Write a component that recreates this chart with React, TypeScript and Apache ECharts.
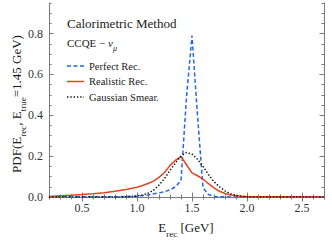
import React, { useEffect, useRef } from "react";
import * as echarts from "echarts";

const FONT = "Liberation Serif";

const seriesNames = ["Perfect Rec.", "Realistic Rec.", "Gaussian Smear."];
const seriesColors = ["#2266e0", "#e2441e", "#111111"];
const seriesDash: (number[] | null)[] = [[4, 2.5], null, [1.4, 1.9]];

const perfectX = [0.2, 0.6, 0.9, 1.0, 1.1, 1.2, 1.25, 1.3, 1.35, 1.4, 1.45, 1.5, 1.55, 1.6, 1.65, 1.7, 1.75, 2.0, 2.7];
const perfectY = [0.001, 0.001, 0.002, 0.004, 0.01, 0.02, 0.026, 0.035, 0.05, 0.08, 0.49, 0.79, 0.4, 0.045, 0.012, 0.003, 0.001, 0, 0];

const realisticX = [0.2, 0.3, 0.4, 0.5, 0.6, 0.7, 0.8, 0.9, 1.0, 1.05, 1.1, 1.15, 1.2, 1.25, 1.3, 1.35, 1.4, 1.45, 1.5, 1.55, 1.6, 1.65, 1.7, 1.75, 1.8, 1.85, 1.9, 1.95, 2.0, 2.2, 2.5, 2.7];
const realisticY = [0.003, 0.006, 0.009, 0.012, 0.016, 0.021, 0.028, 0.037, 0.048, 0.056, 0.066, 0.078, 0.096, 0.12, 0.155, 0.18, 0.198, 0.158, 0.118, 0.104, 0.088, 0.065, 0.045, 0.028, 0.017, 0.01, 0.006, 0.004, 0.003, 0.0015, 0.001, 0.0005];

const gaussX = [0.2, 0.8, 0.9, 1.0, 1.05, 1.1, 1.15, 1.2, 1.25, 1.3, 1.35, 1.4, 1.45, 1.5, 1.55, 1.6, 1.65, 1.7, 1.75, 1.8, 1.85, 1.9, 1.95, 2.0, 2.1, 2.7];
const gaussY = [0, 0, 0.001, 0.005, 0.01, 0.018, 0.033, 0.058, 0.09, 0.13, 0.168, 0.2, 0.218, 0.21, 0.185, 0.15, 0.11, 0.075, 0.05, 0.03, 0.016, 0.008, 0.003, 0.001, 0, 0];

const xMajorTicks = [0.5, 1.0, 1.5, 2.0, 2.5];
const xMinorTicks = [0.2, 0.3, 0.4, 0.6, 0.7, 0.8, 0.9, 1.1, 1.2, 1.3, 1.4, 1.6, 1.7, 1.8, 1.9, 2.1, 2.2, 2.3, 2.4, 2.6, 2.7];
const yMajorTicks = [0.0, 0.2, 0.4, 0.6, 0.8];
const yMinorTicks = [0.05, 0.1, 0.15, 0.25, 0.3, 0.35, 0.45, 0.5, 0.55, 0.65, 0.7, 0.75, 0.85, 0.9, 0.95];

const X_MIN = 0.2;
const X_MAX = 2.7;
const Y_MIN = 0;
const Y_MAX = 0.95;

const FRAME = "#7a7a7a";
const LABEL = "#333";
const TEXT = "#1a1a1a";

const tickRich = { t: { fontFamily: FONT, fontSize: 12, color: LABEL } };

function zip(xs: number[], ys: number[]) {
  return xs.map((x, i) => [x, ys[i]]);
}

function xAxisDef(position: "top" | "bottom", major: boolean, labels: boolean) {
  return {
    type: "value",
    position,
    min: X_MIN,
    max: X_MAX,
    axisLine: { show: major, lineStyle: { color: FRAME, width: 1 } },
    axisTick: {
      show: true,
      inside: true,
      length: major ? 4.5 : 2.5,
      customValues: major ? xMajorTicks : xMinorTicks,
      lineStyle: { color: FRAME, width: 1 },
    },
    axisLabel: {
      show: labels,
      customValues: xMajorTicks,
      formatter: (v: number) => `{t|${v.toFixed(1)}}`,
      rich: tickRich,
      fontFamily: FONT,
      fontSize: 12,
      color: LABEL,
      margin: 5,
    },
    splitLine: { show: false },
  };
}

function yAxisDef(position: "left" | "right", major: boolean, labels: boolean) {
  return {
    type: "value",
    position,
    min: Y_MIN,
    max: Y_MAX,
    axisLine: { show: major, lineStyle: { color: FRAME, width: 1 } },
    axisTick: {
      show: true,
      inside: true,
      length: major ? 4.5 : 2.5,
      customValues: major ? yMajorTicks : yMinorTicks,
      lineStyle: { color: FRAME, width: 1 },
    },
    axisLabel: {
      show: labels,
      customValues: yMajorTicks,
      formatter: (v: number) => `{t|${v.toFixed(1)}}`,
      rich: tickRich,
      fontFamily: FONT,
      fontSize: 12,
      color: LABEL,
      margin: 6,
    },
    splitLine: { show: false },
  };
}

export default function App() {
  const ref = useRef<HTMLDivElement>(null);
  useEffect(() => {
    if (!ref.current) return;
    const chart = echarts.init(ref.current, null, { renderer: "svg" });
    const normal = { fontFamily: FONT, fontSize: 13, fill: TEXT, lineHeight: 14, verticalAlign: "top" };
    const sub = { fontFamily: FONT, fontSize: 9, fill: TEXT, lineHeight: 9, padding: [8, 0, 0, 0], verticalAlign: "top" };

    const legendY = [66, 81.5, 97];
    const legendGraphics: any[] = [];
    seriesNames.forEach((name, i) => {
      legendGraphics.push({
        type: "line",
        shape: { x1: 67, y1: legendY[i], x2: 84, y2: legendY[i] },
        style: {
          stroke: seriesColors[i],
          lineWidth: 1.5,
          lineDash: seriesDash[i] || undefined,
        },
      });
      legendGraphics.push({
        type: "text",
        x: 89,
        y: legendY[i],
        style: {
          text: `{l|${name}}`,
          rich: { l: { fontFamily: FONT, fontSize: 10.5, fill: TEXT } },
          verticalAlign: "middle",
          align: "left",
        },
      });
    });

    const series = [
      zip(perfectX, perfectY),
      zip(realisticX, realisticY),
      zip(gaussX, gaussY),
    ].map((data, i) => ({
      name: seriesNames[i],
      type: "line",
      xAxisIndex: 0,
      yAxisIndex: 0,
      showSymbol: false,
      symbol: "none",
      data,
      lineStyle: {
        color: seriesColors[i],
        width: 1.5,
        type: seriesDash[i] || "solid",
      },
      z: 3 + i,
    }));

    chart.setOption({
      animation: false,
      backgroundColor: "#fff",
      textStyle: { fontFamily: FONT },
      grid: { left: 49, right: 8, top: 3, bottom: 45, containLabel: false },
      xAxis: [
        xAxisDef("bottom", true, true),
        xAxisDef("bottom", false, false),
        xAxisDef("top", true, false),
        xAxisDef("top", false, false),
      ],
      yAxis: [
        yAxisDef("left", true, true),
        yAxisDef("left", false, false),
        yAxisDef("right", true, false),
        yAxisDef("right", false, false),
      ],
      graphic: [
        {
          type: "text",
          x: 67,
          y: 23.5,
          style: {
            text: "{h|Calorimetric Method}",
            rich: { h: { fontFamily: FONT, fontSize: 13, fill: TEXT } },
            verticalAlign: "middle",
          },
        },
        {
          type: "text",
          x: 67,
          y: 37,
          style: {
            text: "{a|CCQE − }{b|ν}{c|μ}",
            rich: {
              a: { fontFamily: FONT, fontSize: 11, fill: TEXT, lineHeight: 12, verticalAlign: "top" },
              b: { fontFamily: FONT, fontSize: 11, fontStyle: "italic", fill: TEXT, lineHeight: 12, verticalAlign: "top" },
              c: { fontFamily: FONT, fontSize: 8, fontStyle: "italic", fill: TEXT, lineHeight: 8, padding: [7, 0, 0, 0], verticalAlign: "top" },
            },
          },
        },
        ...legendGraphics,
        {
          type: "text",
          x: 186,
          y: 228,
          style: {
            text: "{n|E}{s|rec}{n| [GeV]}",
            align: "center",
            verticalAlign: "middle",
            rich: { n: normal, s: sub },
          },
        },
        {
          type: "text",
          x: 17,
          y: 104,
          rotation: Math.PI / 2,
          style: {
            text: "{n|PDF(E}{s|rec}{n|, E}{s|true}{n|=1.45 GeV)}",
            align: "center",
            verticalAlign: "middle",
            rich: { n: normal, s: sub },
          },
        },
      ],
      series,
    });
    return () => chart.dispose();
  }, []);
  return <div ref={ref} style={{ position: "fixed", left: 0, top: 0, width: 332, height: 242 }} />;
}
